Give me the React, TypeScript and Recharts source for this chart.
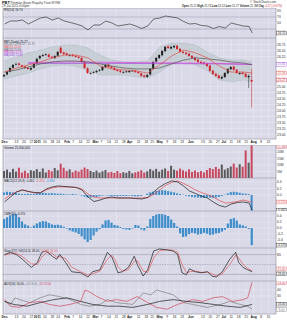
import React from 'react';
import {
  ComposedChart, Line, Bar, Area, XAxis, YAxis, CartesianGrid,
  ReferenceLine, ReferenceArea, Cell,
} from 'recharts';

// ---------------- data ----------------
const CANDLE_DAYS = [0,2,4,6,8,10,12,14,16,18,20,22,24,26,28,30,32,34,36,38,40,42,44,46,48,50,52,54,56,58,60,62,64,66,68,70,72,74,76,78,80,82,84,86,88,90,92,94,96,98,100,102,104,106,108,110,112,114,116,118,120,122,124,126,128,130,132,134,136,138,140,142,144,146,148,150,152,154,156,158,160,162,164,166];
const OPEN = [25.42,25.50,25.62,25.78,25.92,25.96,25.88,25.83,25.78,25.70, 25.78,25.96,26.17,26.27,26.34,26.33,26.24,26.18,26.28,26.62, 26.42,26.38,26.29,26.32,26.28,26.24,26.19,26.04,25.76,25.55, 25.57,25.60,25.66,25.68,25.80,25.92,25.83,25.78,25.70,25.66, 25.58,25.63,25.60,25.66,25.66,25.61,25.55,25.46,25.40,25.50, 25.74,26.04,26.18,26.30,26.47,26.67,26.58,26.63,26.70,26.57, 26.45,26.41,26.37,26.28,26.20,26.12,26.03,26.00,25.95,25.87, 25.66,25.53,25.46,25.33,25.39,25.55,25.72,25.83,25.70,25.52, 25.58,25.53,25.38,25.21];
const HIGH = [25.52,25.65,25.81,25.94,25.99,26.00,25.92,25.87,25.82,25.81, 25.98,26.19,26.31,26.36,26.38,26.37,26.28,26.31,26.48,26.67, 26.46,26.42,26.35,26.36,26.32,26.28,26.22,26.07,25.80,25.61, 25.64,25.69,25.73,25.85,25.94,25.95,25.86,25.81,25.74,25.70, 25.64,25.67,25.69,25.70,25.70,25.65,25.58,25.50,25.52,25.77, 26.06,26.23,26.35,26.52,26.69,26.72,26.70,26.74,26.73,26.60, 26.49,26.45,26.40,26.31,26.24,26.16,26.07,26.04,25.99,25.90, 25.70,25.57,25.50,25.45,25.60,25.77,25.85,25.87,25.73,25.61, 25.62,25.56,25.50,25.74];
const LOW = [25.38,25.46,25.58,25.75,25.88,25.86,25.77,25.73,25.69,25.67, 25.75,25.93,26.13,26.23,26.27,26.19,26.15,26.15,26.25,26.36, 26.31,26.27,26.25,26.23,26.19,26.15,25.98,25.73,25.52,25.50, 25.53,25.56,25.62,25.64,25.76,25.77,25.73,25.65,25.61,25.56, 25.54,25.56,25.56,25.61,25.56,25.52,25.40,25.36,25.36,25.46, 25.70,26.00,26.14,26.26,26.43,26.56,26.54,26.59,26.52,26.40, 26.36,26.31,26.23,26.15,26.06,25.98,25.94,25.90,25.81,25.61, 25.48,25.40,25.30,25.29,25.36,25.51,25.68,25.65,25.52,25.48, 25.48,25.36,24.94,24.13];
const CLOSE = [25.48,25.60,25.77,25.90,25.94,25.90,25.81,25.77,25.73,25.77, 25.94,26.15,26.27,26.31,26.31,26.23,26.19,26.27,26.44,26.40, 26.35,26.31,26.31,26.27,26.23,26.19,26.02,25.77,25.56,25.56, 25.60,25.65,25.69,25.81,25.90,25.81,25.77,25.69,25.65,25.60, 25.60,25.60,25.65,25.65,25.60,25.56,25.44,25.40,25.48,25.73, 26.02,26.19,26.31,26.48,26.65,26.60,26.65,26.69,26.56,26.44, 26.40,26.35,26.27,26.19,26.10,26.02,25.98,25.94,25.85,25.65, 25.52,25.44,25.35,25.40,25.56,25.73,25.81,25.69,25.56,25.56, 25.52,25.40,25.44,25.27];
const VOLUME = [5.4,6.5,4.5,7.1,5.0,8.0,4.2,5.7,3.8,6.0, 5.5,6.9,4.8,7.4,4.3,6.2,5.2,7.7,6.0,11.1, 8.0,5.4,6.7,4.5,5.8,5.0,6.5,8.1,7.0,5.5, 4.6,5.7,4.2,5.2,6.2,4.3,4.8,3.9,5.4,3.7, 4.5,4.0,5.5,3.6,4.4,5.0,6.0,4.2,5.2,6.9, 5.7,7.1,5.0,6.5,7.4,5.5,9.5,6.4,5.7,7.3, 6.0,5.1,6.7,4.8,5.8,4.5,5.4,4.3,6.2,7.7, 6.9,8.6,7.1,10.4,6.5,7.6,8.9,11.1,8.1,10.7, 8.8,21.4,11.9,25.3];

const LINE_DAYS = [0,8,16,24,32,40,48,56,64,72,80,88,96,104,112,120,128,136,144,152,160,166];
const BB_UPPER = [26.06,26.23,26.40,26.52,26.65,26.73,26.73,26.60,26.31,26.10,26.02,26.02,26.06,26.65,26.81,26.81,26.73,26.44,26.19,26.10,26.10,26.02];
const BB_LOWER = [25.31,25.44,25.56,25.73,25.85,25.90,25.85,25.65,25.48,25.48,25.48,25.40,25.35,25.60,25.94,26.06,25.90,25.65,25.27,25.19,25.27,25.19];
const MA20 = [25.60,25.77,25.90,26.02,26.19,26.31,26.31,26.19,25.85,25.73,25.69,25.65,25.56,25.90,26.27,26.52,26.40,26.19,25.85,25.60,25.60,25.56];
const MA50 = [25.60,25.69,25.81,25.94,26.02,26.06,26.06,26.02,25.94,25.85,25.77,25.73,25.73,25.77,25.94,26.10,26.19,26.15,26.10,26.02,25.98,25.90];
const LONG_MA_DAYS = [16,48,80,112,144,166];
const MA100 = [26.00,26.02,26.00,25.98,25.96,25.92];
const MA200 = [25.96,25.96,25.96,25.95,25.94,25.92];

const IND_DAYS = [0,4,8,12,16,20,24,28,32,36,40,44,48,52,56,60,64,68,72,76,80,84,88,92,96,100,104,108,112,116,120,124,128,132,136,140,144,148,152,156,160,164,166];
const RSI = [46.7,56.7,56.7,60,46.7,56.7,66.7,70,60,66.7,56.7,51.7,46.7,40,26.7,43.3,43.3,56.7,50,40,43.3,46.7,40,31.7,40,63.3,66.7,73.3,70,66.7,55,46.7,48.3,41.7,40,31.7,38.3,33.3,50,45,40,38.3,16.7];
const MACD = [-0.215,-0.062,0.092,0.154,0.108,0.077,0.062,0.185,0.246,0.277,0.262,0.246,0.231,0.154,-0.062,-0.2,-0.154,-0.092,-0.062,-0.092,-0.092,-0.092,-0.108,-0.123,-0.077,0.092,0.246,0.354,0.431,0.4,0.277,0.123,0.046,-0.031,-0.092,-0.215,-0.323,-0.369,-0.277,-0.231,-0.215,-0.246,-0.462];
const SIGNAL = [-0.123,0,0.092,0.154,0.108,0.062,0.077,0.154,0.215,0.246,0.246,0.246,0.231,0.185,0.031,-0.062,-0.092,-0.092,-0.092,-0.092,-0.092,-0.092,-0.092,-0.092,-0.077,0.015,0.154,0.292,0.385,0.431,0.354,0.262,0.154,0.077,0.015,-0.062,-0.169,-0.246,-0.231,-0.2,-0.154,-0.2,-0.215];
const MACD_HIST = [0.08,0.10,0.09,0.08,0.06,0.04,0.03,0.03,0.04,0.03, 0.03,0.05,0.06,0.07,0.06,0.05,0.06,0.05,0.04,0.04, 0.03,0.02,0.02,0.03,0.02,0.01,-0.02,-0.05,-0.08,-0.08, -0.07,-0.06,-0.04,-0.02,-0.01,-0.02,-0.03,-0.03,-0.04,-0.03, -0.03,-0.03,-0.02,-0.03,-0.04,-0.04,-0.03,0.00,0.04,0.08, 0.10,0.12,0.14,0.15,0.14,0.12,0.10,0.08,0.05,0.03, 0.01,-0.02,-0.04,-0.06,-0.07,-0.08,-0.09,-0.09,-0.08,-0.08, -0.09,-0.08,-0.06,-0.03,0.01,0.05,0.09,0.10,0.09,0.07, 0.05,0.04,0.03,-0.48];
const CMF = [0.30,0.36,0.42,0.46,0.47,0.36,0.22,0.12,0.08,0.02, 0.08,0.15,0.20,0.23,0.22,0.17,0.12,0.10,0.11,0.09, 0.04,-0.02,-0.08,-0.12,-0.15,-0.20,-0.28,-0.38,-0.47,-0.40, -0.25,-0.12,-0.04,0.12,0.25,0.27,0.18,0.10,0.08,0.03, -0.03,-0.05,-0.06,-0.02,0.10,0.08,-0.05,-0.08,0.05,0.30, 0.40,0.45,0.47,0.46,0.44,0.40,0.28,0.17,0.05,-0.18, -0.30,-0.28,-0.20,-0.16,-0.18,-0.22,-0.20,-0.16,-0.19,-0.23, -0.22,-0.18,-0.17,-0.12,-0.06,0.15,0.30,0.33,0.25,0.12, 0.09,0.05,-0.03,-0.57];

const STO_DAYS = [0,4,8,12,18,22,25,28,32,35,37,41,45,51,56,59,64,69,72,74,76,79,83,87,89,93,96,100,104,109,113,116,119,122,124,128,132,136,139,142,146,151,155,157,160,163,166];
const STO_K = [80,87,80,66,41,56,87,91,75,66,81,56,28,25,12,28,34,87,72,50,25,28,41,75,50,15,34,91,97,94,91,81,25,19,37,28,25,28,15,12,28,66,87,56,41,34,28];
const STO_D = [78,84,84,74,52,50,72,86,84,72,74,68,42,28,18,22,30,66,78,66,44,30,34,60,62,30,26,70,92,95,93,88,50,25,28,30,26,27,22,15,22,50,78,70,50,38,31];

const ADX_DAYS = [0,6,15,24,33,42,51,59,69,77,86,96,104,113,122,131,140,149,158,166];
const ADX = [21,16,13,19,24,27,21,16,13,13,11,16,21,24,21,19,16,13,11,16];
const PDI_DAYS = [0,4,7,10,17,24,30,37,44,51,57,64,69,75,86,93,98,102,109,113,120,126,136,145,151,158,163,166];
const PDI = [21,16,27,24,19,27,32,29,24,16,13,16,24,19,16,35,32,40,35,32,19,16,11,16,21,16,13,8];
const MDI_DAYS = [0,4,10,17,24,30,37,44,51,54,57,62,69,75,82,89,96,102,109,116,120,126,133,140,146,153,160,163,166];
const MDI = [24,13,11,19,21,16,13,16,21,40,37,29,21,24,21,29,19,11,8,16,19,24,21,27,29,21,24,27,53];

const TICK_DAYS = [0,8,13,18,22,27,32,36,42,46,51,56,61,65,70,75,80,84,90,95,99,104,109,114,119,125,133,138,143,147,152,157,162,167,172,177];
const TICK_LABELS = ['Dec','13','20','27','2011','10','18','24','Feb','7','14','22','Mar','7','14','21','28','Apr','11','18','25','May','9','16','23','Jun','13','20','27','Jul','11','18','25','Aug','8','15'];

const PRICE_TICKS = [23,23.25,23.5,23.75,24,24.25,24.5,24.75,25,25.25,25.5,25.75,26,26.25,26.5,26.75];
const RSI_TICKS = [10,30,50,70,90];
const VOL_TICKS = [5,10,15,20];
const MACD_TICKS = [-0.4,-0.2,0,0.2,0.4];
const CMF_TICKS = [-0.6,-0.4,-0.2,0,0.2,0.4];
const STO_TICKS = [20,50,80];
const ADX_TICKS = [10,20,30,40,50];

// ---------------- layout / style ----------------
const W = 287;
const X_DOMAIN: [number, number] = [-1, 182];
const BG = '#d9d9e8';
const GRID = '#ececf5';
const FONT = '"Liberation Sans", Arial, sans-serif';
const MARGIN = { top: 0, right: 0, bottom: 0, left: 3 };
const tickStyle = { fontSize: 3.4, fill: '#333', fontFamily: FONT };

const PRICE_DOMAIN: [number, number] = [22.81, 27.02];
const RSI_DOMAIN: [number, number] = [0, 100];
const VOL_DOMAIN: [number, number] = [0, 25.6];
const MACD_DOMAIN: [number, number] = [-0.49, 0.52];
const CMF_DOMAIN: [number, number] = [-0.667, 0.567];
const STO_DOMAIN: [number, number] = [0, 100];
const ADX_DOMAIN: [number, number] = [0, 55];

const last = (a: number[]) => a[a.length - 1];

// drop axis ticks that would collide with a value tag (gap given in pixels)
function clearTicks(ticks: number[], tags: number[], domain: [number, number], plotH: number, gapPx: number) {
  const pxPerUnit = plotH / (domain[1] - domain[0]);
  return ticks.filter((t) => tags.every((v) => Math.abs(t - v) * pxPerUnit >= gapPx));
}

function merge(series: Array<[string, number[], number[]]>) {
  const map = new Map<number, any>();
  for (const [key, days, vals] of series) {
    days.forEach((d, i) => {
      const r = map.get(d) ?? { day: d };
      r[key] = vals[i];
      map.set(d, r);
    });
  }
  return [...map.values()].sort((a, b) => a.day - b.day);
}

const priceRows = CANDLE_DAYS.map((d, i) => ({
  day: d, open: OPEN[i], high: HIGH[i], low: LOW[i], close: CLOSE[i],
  prev: i > 0 ? CLOSE[i - 1] : undefined, range: [LOW[i], HIGH[i]],
})) as any[];
LINE_DAYS.forEach((d, j) => {
  const r = priceRows.find((x) => x.day === d);
  if (r) { r.bb = [BB_LOWER[j], BB_UPPER[j]]; r.ma20 = MA20[j]; r.ma50 = MA50[j]; }
});
LONG_MA_DAYS.forEach((d, j) => {
  const r = priceRows.find((x) => x.day === d);
  if (r) { r.ma100 = MA100[j]; r.ma200 = MA200[j]; }
});

const volRows = CANDLE_DAYS.map((d, i) => ({ day: d, vol: VOLUME[i], down: i > 0 && CLOSE[i] < CLOSE[i - 1] }));
const rsiRows = merge([['rsi', IND_DAYS, RSI]]);
const macdRows = merge([['hist', CANDLE_DAYS, MACD_HIST], ['macd', IND_DAYS, MACD], ['signal', IND_DAYS, SIGNAL]]);
const cmfRows = merge([['cmf', CANDLE_DAYS, CMF]]);
const stoRows = merge([['k', STO_DAYS, STO_K], ['d', STO_DAYS, STO_D]]);
const adxRows = merge([['adx', ADX_DAYS, ADX], ['pdi', PDI_DAYS, PDI], ['mdi', MDI_DAYS, MDI]]);

// ---------------- pieces ----------------
const DateTick = (props: any) => {
  const { x, y, payload } = props;
  const idx = TICK_DAYS.indexOf(payload.value);
  const label = TICK_LABELS[idx] ?? '';
  const major = isNaN(Number(label)) || label.length === 4;
  return (
    <text x={x} y={y + 4.2} fontSize={3.3} textAnchor="middle" fill="#222"
      fontWeight={major ? 'bold' : 'normal'} fontFamily={FONT}>{label}</text>
  );
};

const ValueTag = (props: any) => {
  const { viewBox, text, color, dy = 0 } = props;
  if (!viewBox) return null;
  const x = viewBox.x + viewBox.width + 0.4;
  const y = viewBox.y + dy;
  return (
    <g>
      <rect x={x} y={y - 1.9} width={10.2} height={3.8} fill="#fff" stroke={color} strokeWidth={0.4} />
      <text x={x + 5.1} y={y + 1.1} fontSize={3} fill={color} textAnchor="middle" fontFamily={FONT}>{text}</text>
    </g>
  );
};

const Candle = (props: any) => {
  const { x, y, width, height, payload } = props;
  if (!payload || payload.open == null || height == null || isNaN(y)) return null;
  const { open, close, high, low, prev } = payload;
  const k = height / ((high - low) || 1);
  const yO = y + (high - open) * k;
  const yC = y + (high - close) * k;
  const top = Math.min(yO, yC);
  const bh = Math.max(Math.abs(yO - yC), 0.7);
  const down = prev != null && close < prev;
  const col = down ? '#d2202c' : '#1e1e1e';
  const cx = x + width / 2;
  return (
    <g>
      <line x1={cx} x2={cx} y1={y} y2={y + height} stroke={col} strokeWidth={0.5} />
      <rect x={x} y={top} width={width} height={bh} fill={col} />
    </g>
  );
};

const grid = () => <CartesianGrid fill={BG} stroke={GRID} strokeWidth={0.5} verticalValues={TICK_DAYS} />;
const hiddenX = () => <XAxis dataKey="day" type="number" domain={X_DOMAIN} ticks={TICK_DAYS} hide allowDataOverflow />;
const dateX = () => (
  <XAxis dataKey="day" type="number" domain={X_DOMAIN} ticks={TICK_DAYS} interval={0} height={6}
    tickLine={false} axisLine={false} tickSize={0} tickMargin={0} tick={<DateTick />} allowDataOverflow />
);
const rightY = (domain: [number, number], ticks: number[], fmt: (v: number) => string) => (
  <YAxis orientation="right" type="number" width={11} domain={domain} ticks={ticks} interval={0}
    allowDataOverflow tick={tickStyle} tickLine={false} axisLine={false} tickSize={0} tickMargin={1}
    tickFormatter={fmt} />
);
const frame = (d: [number, number]) => (
  <ReferenceArea y1={d[0]} y2={d[1]} fill="none" stroke="#8a8a9a" strokeWidth={0.6} ifOverflow="visible" />
);
const tag = (key: string, y: number, text: string, color: string, dy = 0) => (
  <ReferenceLine key={key} y={y} stroke="none" ifOverflow="visible" label={<ValueTag text={text} color={color} dy={dy} />} />
);
const level = (key: string, y: number, dash?: string) => (
  <ReferenceLine key={key} y={y} stroke="#8c8ca0" strokeWidth={0.5} strokeDasharray={dash} />
);

const lineProps = { dot: false, activeDot: false, isAnimationActive: false, connectNulls: true, type: 'linear' as const };

const Pane = ({ top, height, children }: any) => (
  <div style={{ position: 'absolute', left: 0, top, width: W, height }}>{children}</div>
);

export default function App() {
  const chg = CLOSE[83] - CLOSE[82];
  const chgPct = (chg / CLOSE[82]) * 100;

  const rsiTicks = clearTicks(RSI_TICKS, [last(RSI)], RSI_DOMAIN, 30, 4.2);
  const priceTicks = clearTicks(PRICE_TICKS, [last(MA200), last(MA20), last(CLOSE)], PRICE_DOMAIN, 101, 4.2);
  const volTicks = clearTicks(VOL_TICKS, [last(VOLUME)], VOL_DOMAIN, 33, 4.2);
  const macdTicks = clearTicks(MACD_TICKS, [last(SIGNAL), last(MACD)], MACD_DOMAIN, 33, 4.2);
  const cmfTicks = clearTicks(CMF_TICKS, [last(CMF)], CMF_DOMAIN, 37, 4.2);
  const stoTicks = clearTicks(STO_TICKS, [last(STO_D), last(STO_K)], STO_DOMAIN, 33, 6.5);
  const adxTicks = clearTicks(ADX_TICKS, [last(MDI), last(ADX), last(PDI)], ADX_DOMAIN, 33, 4.2);

  return (
    <div style={{ position: 'absolute', left: 0, top: 0, width: W, height: 320, background: '#fff', overflow: 'hidden' }}>
      {/* RSI */}
      <Pane top={8} height={30}>
        <ComposedChart width={W} height={30} data={rsiRows} margin={MARGIN}>
          {grid()}
          {hiddenX()}
          {rightY(RSI_DOMAIN, rsiTicks, (v) => String(v))}
          {level('l70', 70)}
          {level('l30', 30)}
          <Line dataKey="rsi" stroke="#3a3a3a" strokeWidth={0.7} {...lineProps} />
          {frame(RSI_DOMAIN)}
          {tag('t1', last(RSI), last(RSI).toFixed(2), '#222')}
        </ComposedChart>
      </Pane>

      {/* Price */}
      <Pane top={38} height={107}>
        <ComposedChart width={W} height={107} data={priceRows} margin={MARGIN}>
          {grid()}
          {dateX()}
          {rightY(PRICE_DOMAIN, priceTicks, (v) => v.toFixed(2))}
          <Area dataKey="bb" stroke="#aab3b9" strokeWidth={0.4} fill="#c2cbcf" fillOpacity={0.8}
            isAnimationActive={false} connectNulls dot={false} activeDot={false} />
          <Line dataKey="ma200" stroke="#9a4fe0" strokeWidth={0.7} {...lineProps} />
          <Line dataKey="ma100" stroke="#e03ed8" strokeWidth={0.7} {...lineProps} />
          <Line dataKey="ma50" stroke="#555" strokeWidth={0.7} {...lineProps} />
          <Line dataKey="ma20" stroke="#e0504c" strokeWidth={0.7} {...lineProps} />
          <Bar dataKey="range" barSize={2} isAnimationActive={false} shape={(p: any) => <Candle {...p} />} />
          {frame(PRICE_DOMAIN)}
          {tag('p1', last(MA200), last(MA200).toFixed(2), '#9a4fe0')}
          {tag('p2', last(MA20), last(MA20).toFixed(2), '#e0504c')}
          {tag('p3', last(CLOSE), last(CLOSE).toFixed(2), '#d2202c')}
        </ComposedChart>
      </Pane>

      {/* Volume */}
      <Pane top={145} height={33}>
        <ComposedChart width={W} height={33} data={volRows} margin={MARGIN}>
          {grid()}
          {hiddenX()}
          {rightY(VOL_DOMAIN, volTicks, (v) => `${v}M`)}
          <Bar dataKey="vol" barSize={2} isAnimationActive={false}>
            {volRows.map((r, i) => <Cell key={i} fill={r.down ? '#c8485e' : '#5a5a5a'} />)}
          </Bar>
          {frame(VOL_DOMAIN)}
          {tag('v1', last(VOLUME), `${last(VOLUME)}M`, '#c8485e', 1.2)}
        </ComposedChart>
      </Pane>

      {/* MACD */}
      <Pane top={178} height={33}>
        <ComposedChart width={W} height={33} data={macdRows} margin={MARGIN}>
          {grid()}
          {hiddenX()}
          {rightY(MACD_DOMAIN, macdTicks, (v) => v.toFixed(1))}
          <Bar dataKey="hist" barSize={2} fill="#3d8ecb" isAnimationActive={false} />
          <Line dataKey="signal" stroke="#e24a4a" strokeWidth={0.7} {...lineProps} />
          <Line dataKey="macd" stroke="#1c1c1c" strokeWidth={0.7} {...lineProps} />
          {frame(MACD_DOMAIN)}
          {tag('m1', last(SIGNAL), last(SIGNAL).toFixed(3), '#e24a4a')}
          {tag('m2', last(MACD), last(MACD).toFixed(3), '#222')}
        </ComposedChart>
      </Pane>

      {/* CMF histogram */}
      <Pane top={211} height={37}>
        <ComposedChart width={W} height={37} data={cmfRows} margin={MARGIN}>
          {grid()}
          {hiddenX()}
          {rightY(CMF_DOMAIN, cmfTicks, (v) => v.toFixed(1))}
          <Bar dataKey="cmf" barSize={2.2} fill="#3d8ecb" isAnimationActive={false} />
          {frame(CMF_DOMAIN)}
          {tag('c1', last(CMF), last(CMF).toFixed(3), '#222')}
        </ComposedChart>
      </Pane>

      {/* Slow stochastic */}
      <Pane top={248} height={33}>
        <ComposedChart width={W} height={33} data={stoRows} margin={MARGIN}>
          {grid()}
          {hiddenX()}
          {rightY(STO_DOMAIN, stoTicks, (v) => String(v))}
          {level('s80', 80)}
          {level('s50', 50, '1.5 1')}
          {level('s20', 20)}
          <Line dataKey="d" stroke="#e25a5a" strokeWidth={0.7} {...lineProps} />
          <Line dataKey="k" stroke="#1c1c1c" strokeWidth={0.7} {...lineProps} />
          {frame(STO_DOMAIN)}
          {tag('s1', last(STO_D), last(STO_D).toFixed(2), '#e25a5a', -1.9)}
          {tag('s2', last(STO_K), last(STO_K).toFixed(2), '#222', 2.1)}
        </ComposedChart>
      </Pane>

      {/* ADX */}
      <Pane top={281} height={39}>
        <ComposedChart width={W} height={39} data={adxRows} margin={MARGIN}>
          {grid()}
          {dateX()}
          {rightY(ADX_DOMAIN, adxTicks, (v) => String(v))}
          <Line dataKey="pdi" stroke="#7e7e7e" strokeWidth={0.7} {...lineProps} />
          <Line dataKey="mdi" stroke="#d2485c" strokeWidth={0.7} {...lineProps} />
          <Line dataKey="adx" stroke="#1c1c1c" strokeWidth={0.7} {...lineProps} />
          {frame(ADX_DOMAIN)}
          {tag('a1', last(MDI), last(MDI).toFixed(2), '#d2485c', 0.2)}
          {tag('a2', last(ADX), last(ADX).toFixed(2), '#222', -0.3)}
          {tag('a3', last(PDI), last(PDI).toFixed(2), '#7e7e7e', 0.3)}
        </ComposedChart>
      </Pane>

      {/* texts */}
      <svg width={W} height={320} style={{ position: 'absolute', left: 0, top: 0, pointerEvents: 'none' }} fontFamily={FONT}>
        <text x={2} y={3.8} fontSize={3.9} fontWeight="bold" fill="#111">PBT</text>
        <text x={10.5} y={3.8} fontSize={3.2} fill="#333">Permian Basin Royalty Trust NYSE</text>
        <text x={276} y={3.4} fontSize={3} fill="#333" textAnchor="end">© StockCharts.com</text>
        <text x={2} y={7.3} fontSize={3.1} fill="#333">29-Jul-2011 4:00pm</text>
        <text x={182} y={7.3} fontSize={3.1} fill="#222" textLength={100} lengthAdjust="spacingAndGlyphs">
          <tspan fontWeight="bold">Open</tspan> {OPEN[83].toFixed(2)} <tspan fontWeight="bold">High</tspan> {HIGH[83].toFixed(2)} <tspan fontWeight="bold">Low</tspan> {LOW[83].toFixed(2)} <tspan fontWeight="bold">Last</tspan> {CLOSE[83].toFixed(2)} <tspan fontWeight="bold">Volume</tspan> {VOLUME[83]}M <tspan fontWeight="bold">Chg</tspan> <tspan fill="#d2202c">{chg.toFixed(2)} ({chgPct.toFixed(2)}%)</tspan>
        </text>

        <text x={4} y={11.4} fontSize={3} fill="#222">RSI(14) {last(RSI).toFixed(2)}</text>

        <text x={4} y={42.6} fontSize={3} fill="#111">PBT (Daily) {last(CLOSE).toFixed(2)}</text>
        <text x={4} y={45.3} fontSize={2.8} fill="#6a7680">BB(20,2.0) {last(BB_UPPER).toFixed(2)} - {last(BB_LOWER).toFixed(2)}</text>
        <text x={4} y={48} fontSize={2.8} fill="#e0504c">MA(20) {last(MA20).toFixed(2)}</text>
        <text x={4} y={50.7} fontSize={2.8} fill="#555">MA(50) {last(MA50).toFixed(2)}</text>
        <text x={4} y={53.4} fontSize={2.8} fill="#e03ed8">MA(100) {last(MA100).toFixed(2)}</text>
        <text x={4} y={56.1} fontSize={2.8} fill="#9a4fe0">MA(200) {last(MA200).toFixed(2)}</text>

        <text x={4} y={148.6} fontSize={3} fill="#222">Volume {Math.round(last(VOLUME) * 1000000).toLocaleString('en-US')}</text>

        <text x={4} y={181.8} fontSize={3} fill="#222">MACD(12,26,9) {last(MACD).toFixed(3)}, <tspan fill="#e24a4a">{last(SIGNAL).toFixed(3)}</tspan>, <tspan fill="#3d8ecb">{last(MACD_HIST).toFixed(3)}</tspan></text>

        <text x={4} y={214.8} fontSize={3} fill="#222">CMF(20) {last(CMF).toFixed(3)}</text>

        <text x={4} y={251.6} fontSize={3} fill="#222">Slow STO %K(14,3) {last(STO_K).toFixed(2)}, <tspan fill="#e25a5a">%D(3) {last(STO_D).toFixed(2)}</tspan></text>

        <text x={4} y={284.6} fontSize={3} fill="#222">ADX(14) {last(ADX).toFixed(2)}, <tspan fill="#7e7e7e">+DI {last(PDI).toFixed(2)}</tspan>, <tspan fill="#d2485c">-DI {last(MDI).toFixed(2)}</tspan></text>
      </svg>
    </div>
  );
}
